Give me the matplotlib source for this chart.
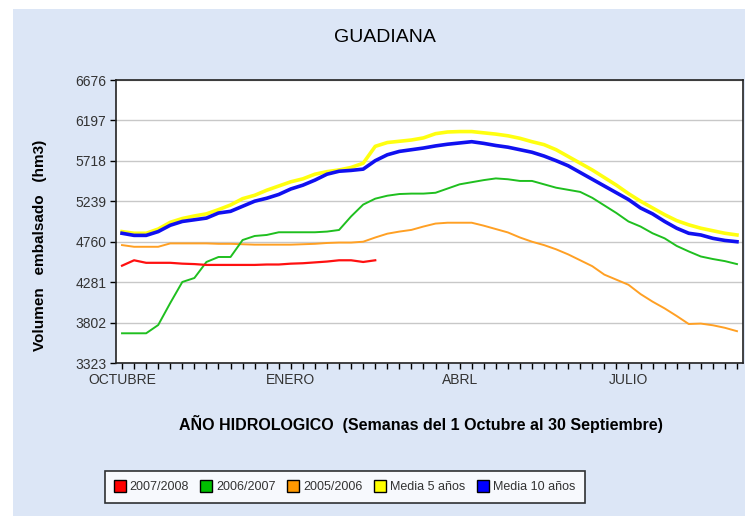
import matplotlib
matplotlib.use("Agg")
import matplotlib.pyplot as plt
from matplotlib.lines import Line2D
from matplotlib.patches import Rectangle

plt.rcParams['font.family'] = ['Liberation Sans', 'DejaVu Sans']

# datos semanales (hm3), semana 0 = 1 octubre
semanas = list(range(52))
y_ticks = [3323, 3802, 4281, 4760, 5239, 5718, 6197, 6676]
meses = {0: "OCTUBRE", 14: "ENERO", 28: "ABRL", 42: "JULIO"}

v_2007 = [4476, 4540, 4510, 4510, 4510, 4500, 4495, 4485, 4485, 4485, 4485,
          4485, 4490, 4490, 4500, 4505, 4515, 4525, 4540, 4540, 4520, 4540]

v_2006 = [3675, 3675, 3675, 3773, 4034, 4283, 4330, 4520, 4579, 4579, 4780,
          4828, 4840, 4872, 4872, 4872, 4872, 4880, 4899, 5060, 5200, 5270,
          5305, 5325, 5330, 5330, 5340, 5390, 5440, 5465, 5490, 5510, 5500,
          5480, 5480, 5440, 5400, 5375, 5350, 5280, 5190, 5100, 5000, 4940,
          4860, 4800, 4710, 4645, 4585, 4555, 4530, 4495]

v_2005 = [4720, 4700, 4700, 4700, 4740, 4740, 4740, 4740, 4735, 4735, 4730,
          4725, 4725, 4725, 4725, 4730, 4735, 4745, 4750, 4750, 4760, 4810,
          4855, 4880, 4900, 4940, 4975, 4985, 4985, 4985, 4950, 4910, 4870,
          4810, 4760, 4720, 4670, 4610, 4540, 4470, 4370, 4310, 4250, 4140,
          4050, 3970, 3880, 3785, 3790, 3770, 3740, 3700]

media5 = [4880, 4860, 4860, 4910, 4990, 5035, 5065, 5090, 5140, 5195, 5270,
          5310, 5370, 5420, 5470, 5505, 5560, 5590, 5610, 5640, 5690, 5890,
          5935, 5950, 5965, 5990, 6040, 6060, 6065, 6065, 6050, 6035, 6015,
          5985, 5945, 5910, 5850, 5770, 5690, 5610, 5520, 5430, 5330, 5240,
          5160, 5080, 5010, 4960, 4920, 4890, 4860, 4840]

media10 = [4860, 4835, 4835, 4880, 4955, 5000, 5020, 5040, 5100, 5120, 5180,
           5240, 5275, 5320, 5385, 5430, 5490, 5560, 5595, 5605, 5620, 5720,
           5790, 5830, 5850, 5870, 5895, 5915, 5930, 5945, 5925, 5900, 5880,
           5850, 5820, 5775, 5720, 5660, 5580, 5500, 5420, 5340, 5260, 5160,
           5090, 5000, 4920, 4860, 4840, 4800, 4775, 4760]

fig = plt.figure(figsize=(7.45, 5.16), dpi=100)
fig.patch.set_facecolor("white")
fig.patches.append(Rectangle((13 / 745, 0), 1, 1 - 9 / 516, transform=fig.transFigure,
                             facecolor="#dce6f6", edgecolor="none", zorder=-10))

ax = fig.add_axes([116 / 745, 1 - 363 / 516, 627 / 745, 283 / 516])
ax.set_facecolor("white")

ax.plot(semanas[:len(v_2005)], v_2005, color="#ffa024", lw=1.4)
ax.plot(semanas[:len(v_2006)], v_2006, color="#1fbf1f", lw=1.4)
ax.plot(semanas[:len(v_2007)], v_2007, color="#ff1010", lw=1.6)
ax.plot(semanas, media5, color="#ffff10", lw=2.6)
ax.plot(semanas, media10, color="#1010f0", lw=2.6)

ax.set_xlim(-0.5, 51.5)
ax.set_ylim(y_ticks[0], y_ticks[-1])
ax.set_yticks(y_ticks)
ax.set_yticklabels([str(v) for v in y_ticks], fontsize=10, color="#333333")
ax.set_xticks(semanas)
ax.set_xticklabels([meses.get(s, "") for s in semanas], fontsize=10, color="#333333")
ax.tick_params(axis="both", direction="out", length=4, width=1, color="black", pad=3)
ax.grid(axis="y", color="#c8c8c8", lw=1)
ax.set_axisbelow(True)
for s in ax.spines.values():
    s.set_linewidth(1.2)
    s.set_color("#222222")

fig.text(385 / 745, 1 - 38 / 516, "GUADIANA", ha="center", va="center", fontsize=14)
fig.text(40 / 745, 1 - 245 / 516, "Volumen   embalsado   (hm3)", rotation=90,
         ha="center", va="center", fontsize=11, fontweight="bold")
fig.text(421 / 745, 1 - 424 / 516,
         "AÑO HIDROLOGICO  (Semanas del 1 Octubre al 30 Septiembre)",
         ha="center", va="center", fontsize=11.5, fontweight="bold")

nombres = ["2007/2008", "2006/2007", "2005/2006", "Media 5 años", "Media 10 años"]
colores = ["#ff0000", "#00c000", "#ff9900", "#ffff00", "#0000ff"]
handles = [Line2D([], [], ls="none", marker="s", markersize=8, markerfacecolor=c,
                  markeredgecolor="black", markeredgewidth=1) for c in colores]
leg = fig.legend(handles, nombres, loc="center", ncol=5,
                 bbox_to_anchor=(345 / 745, 1 - 487 / 516), fontsize=9,
                 frameon=True, fancybox=False, handlelength=0.8, handletextpad=0.4,
                 columnspacing=1.0, borderpad=0.8)
leg.get_frame().set_edgecolor("black")
leg.get_frame().set_linewidth(1.2)
for t in leg.get_texts():
    t.set_color("#333333")

fig.savefig("out.png", dpi=100)
